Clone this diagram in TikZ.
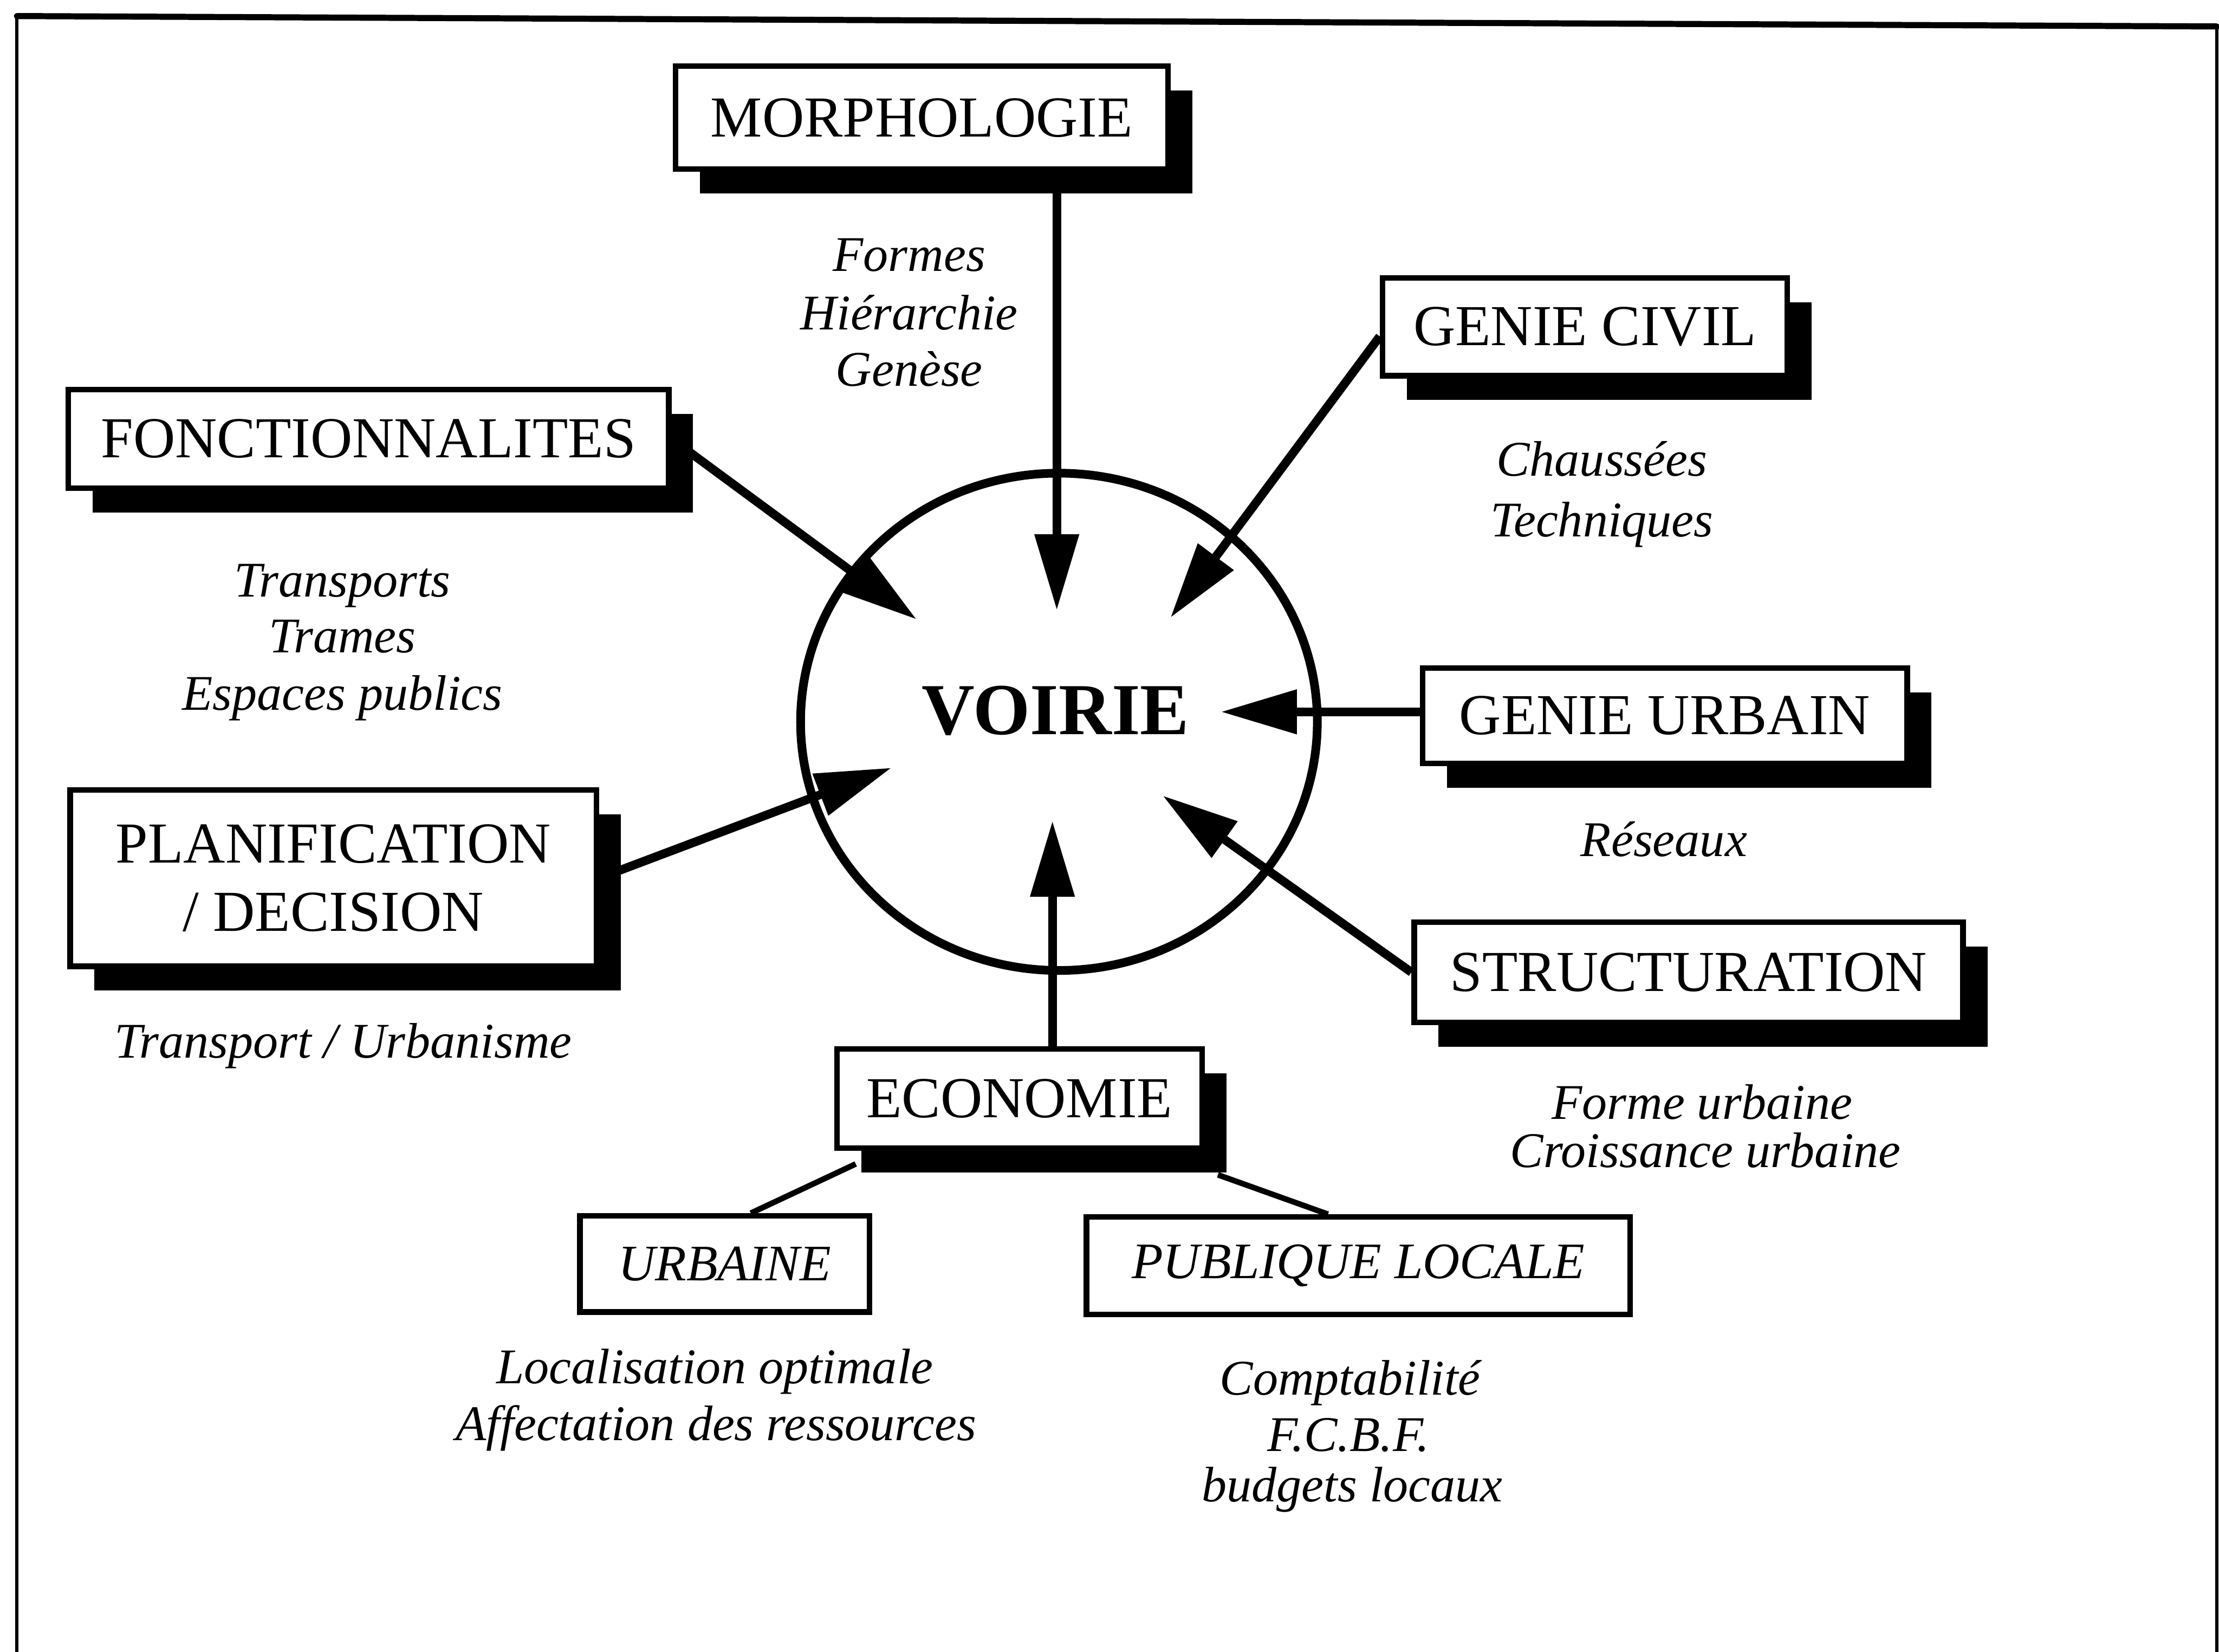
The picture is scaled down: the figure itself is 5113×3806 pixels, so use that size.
\documentclass[tikz,border=0pt]{standalone}
\usepackage{fontspec}
\setmainfont{Liberation Serif}
\usetikzlibrary{arrows.meta,shadows,shapes.geometric,calc}
\pgfdeclarelayer{bg}
\pgfdeclarelayer{paper}
\pgfsetlayers{paper,bg,main}
\begin{document}
\begin{tikzpicture}[x=0.01cm,y=-0.01cm,
  box/.style={draw, line width=0.13cm, fill=white, inner sep=0pt, align=center,
    font=\fontsize{38}{45}\selectfont},
  shadowed/.style={drop shadow={shadow xshift=0.56cm, shadow yshift=-0.56cm, fill=black, opacity=1}},
  subbox/.style={draw, line width=0.13cm, fill=white, inner sep=0pt,
    font=\fontsize{33.5}{40}\selectfont\itshape},
  lbl/.style={anchor=base, inner sep=0pt, font=\fontsize{32.7}{38}\selectfont\itshape},
  arr/.style={line width=0.2cm, -{Triangle[length=1.75cm, width=0.98cm]}},
  link/.style={line width=0.13cm}]
\useasboundingbox (0,0) rectangle (5113,3806);
\begin{pgfonlayer}{paper}
\fill[white] (0,0) rectangle (5113,3806);
\end{pgfonlayer}

% outer frame
\draw[line width=0.07cm] (39,3806) -- (39,37);
\draw[line width=0.14cm, line cap=round] (39,37) -- (5108,61);
\draw[line width=0.07cm] (5108,61) -- (5108,3806);

% centre
\node[draw, ellipse, line width=0.2cm, minimum width=11.9cm, minimum height=11.45cm, inner sep=0pt] (circ) at (2440,1663) {};
\node[inner sep=0pt, font=\fontsize{48}{56}\selectfont\bfseries] (voirie) at (2432,1637) {VOIRIE};

% boxes
\node[box, shadowed, minimum width=11.34cm, minimum height=2.37cm] (morph) at (2124,271) {MORPHOLOGIE};
\node[box, shadowed, minimum width=9.32cm, minimum height=2.25cm] (civil) at (3652,753) {GENIE CIVIL};
\node[box, shadowed, minimum width=13.83cm, minimum height=2.27cm] (fonc) at (849,1011) {FONCTIONNALITES};
\node[box, shadowed, minimum width=12.12cm, minimum height=4.06cm] (planif) at (768,2023) {PLANIFICATION\\/ DECISION};
\node[box, shadowed, minimum width=11.16cm, minimum height=2.19cm] (urbain) at (3836,1649) {GENIE URBAIN};
\node[box, shadowed, minimum width=12.64cm, minimum height=2.31cm] (struct) at (3891,2240) {STRUCTURATION};
\node[box, shadowed, minimum width=8.41cm, minimum height=2.28cm] (econ) at (2349,2531) {ECONOMIE};
\node[subbox, minimum width=6.67cm, minimum height=2.21cm] (ub) at (1670,2912) {URBAINE};
\node[subbox, minimum width=12.52cm, minimum height=2.24cm] (pub) at (3130,2916) {PUBLIQUE LOCALE};

% labels
\node[lbl] (m1) at (2095,625) {Formes};
\node[lbl] (m2) at (2095,760) {Hiérarchie};
\node[lbl] (m3) at (2095,890) {Genèse};
\node[lbl] (c1) at (3691,1096) {Chaussées};
\node[lbl] (c2) at (3691,1236) {Techniques};
\node[lbl] (f1) at (789,1375) {Transports};
\node[lbl] (f2) at (789,1503) {Trames};
\node[lbl] (f3) at (789,1636) {Espaces publics};
\node[lbl] (p1) at (791,2437) {Transport / Urbanisme};
\node[lbl] (u1) at (3834,1973) {Réseaux};
\node[lbl] (s1) at (3922,2578) {Forme urbaine};
\node[lbl] (s2) at (3930,2690) {Croissance urbaine};
\node[lbl] (b1) at (1647,3188) {Localisation optimale};
\node[lbl] (b2) at (1650,3318) {Affectation des ressources};
\node[lbl] (q1) at (3111,3214) {Comptabilité};
\node[lbl] (q2) at (3107,3343) {F.C.B.F.};
\node[lbl] (q3) at (3116,3459) {budgets locaux};

% arrow tips
\coordinate (tM) at (2435,1406);
\coordinate (tF) at (2112,1427);
\coordinate (tC) at (2697,1423);
\coordinate (tU) at (2813,1640);
\coordinate (tP) at (2054,1769);
\coordinate (tE) at (2425,1891);
\coordinate (tS) at (2679,1833);

\begin{pgfonlayer}{bg}
\draw[arr] (morph.south -| tM) -- (tM);
\draw[arr] (fonc.east) -- (tF);
\draw[arr] ([yshift=-0.22cm]civil.west) -- (tC);
\draw[arr] (urbain.west |- tU) -- (tU);
\draw[arr] (planif.east) -- (tP);
\draw[arr] (econ.north -| tE) -- (tE);
\draw[arr] (struct.west) -- (tS);
\draw[link] ([xshift=0.5cm,yshift=-0.3cm]econ.south west) -- ([xshift=0.6cm]ub.north);
\draw[link] ([xshift=0.3cm,yshift=-0.55cm]econ.south east) -- ([xshift=-0.7cm]pub.north);
\end{pgfonlayer}
\end{tikzpicture}
\end{document}
